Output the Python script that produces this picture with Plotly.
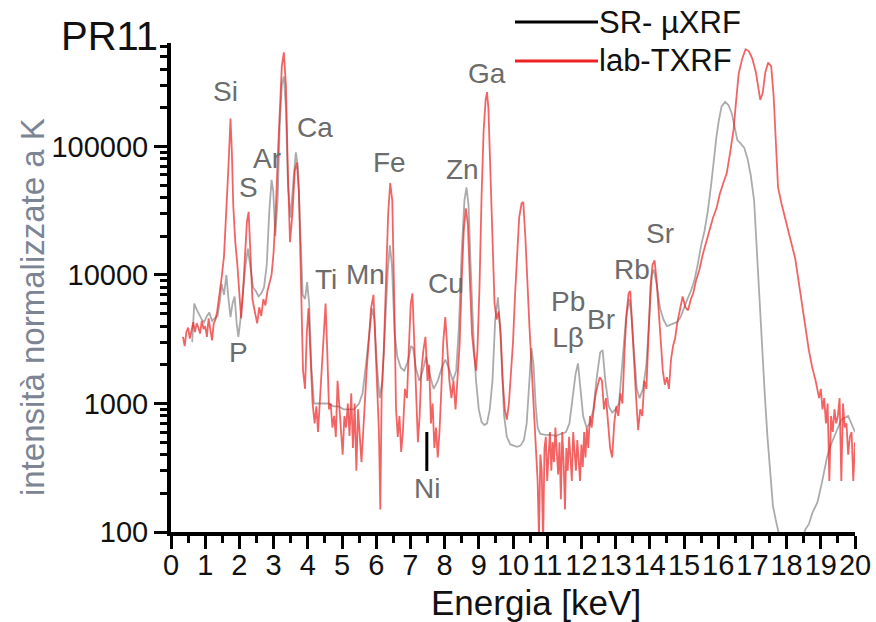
import plotly.graph_objects as go

# ---- lab-TXRF spectrum (energy in keV, normalised intensity) ----
lab_energy = [
    0.35, 0.40, 0.45, 0.50, 0.55, 0.60, 0.65, 0.70, 0.75, 0.80, 0.85, 0.90, 0.95, 1.00,
    1.05, 1.10, 1.15, 1.20, 1.25, 1.30, 1.35, 1.42, 1.48, 1.55, 1.62, 1.68, 1.74, 1.78,
    1.82, 1.88, 1.94, 2.00, 2.05, 2.10, 2.16, 2.22, 2.27, 2.32, 2.38, 2.45, 2.52, 2.58,
    2.64, 2.70, 2.76, 2.82, 2.88, 2.94, 3.00, 3.06, 3.12, 3.18, 3.24, 3.30, 3.36, 3.42,
    3.48, 3.55, 3.62, 3.68, 3.74, 3.80, 3.86, 3.92, 3.97, 4.02, 4.08, 4.14, 4.20, 4.25,
    4.30, 4.36, 4.42, 4.48, 4.52, 4.57, 4.62, 4.67, 4.72, 4.77, 4.82, 4.87, 4.92, 4.97,
    5.02, 5.07, 5.12, 5.17, 5.22, 5.27, 5.32, 5.37, 5.42, 5.47, 5.52, 5.57, 5.62, 5.67,
    5.72, 5.78, 5.85, 5.92, 5.98, 6.04, 6.08, 6.12, 6.16, 6.22, 6.28, 6.35, 6.41, 6.47,
    6.53, 6.58, 6.63, 6.68, 6.73, 6.78, 6.84, 6.90, 6.95, 7.01, 7.06, 7.11, 7.17, 7.22,
    7.27, 7.32, 7.38, 7.44, 7.50, 7.55, 7.60, 7.65, 7.70, 7.75, 7.80, 7.85, 7.90, 7.96,
    8.02, 8.08, 8.14, 8.20, 8.26, 8.32, 8.38, 8.44, 8.50, 8.56, 8.62, 8.68, 8.74, 8.80,
    8.86, 8.92, 8.96, 9.02, 9.08, 9.14, 9.20, 9.24, 9.28, 9.34, 9.40, 9.46, 9.52, 9.58,
    9.64, 9.70, 9.76, 9.82, 9.88, 9.94, 10.00, 10.06, 10.12, 10.18, 10.25, 10.30, 10.36,
    10.42, 10.48, 10.54, 10.60, 10.66, 10.72, 10.76, 10.80, 10.84, 10.88, 10.92, 10.96,
    11.00, 11.04, 11.08, 11.12, 11.16, 11.20, 11.24, 11.28, 11.32, 11.36, 11.40, 11.44,
    11.48, 11.52, 11.56, 11.60, 11.64, 11.68, 11.72, 11.76, 11.80, 11.84, 11.88, 11.92,
    11.96, 12.00, 12.04, 12.08, 12.12, 12.16, 12.20, 12.25, 12.30, 12.36, 12.42, 12.48,
    12.54, 12.60, 12.66, 12.72, 12.78, 12.84, 12.90, 12.96, 13.02, 13.08, 13.14, 13.20,
    13.26, 13.32, 13.38, 13.43, 13.48, 13.54, 13.60, 13.66, 13.72, 13.78, 13.84, 13.90,
    13.96, 14.02, 14.08, 14.14, 14.20, 14.26, 14.32, 14.38, 14.44, 14.50, 14.56, 14.62,
    14.68, 14.74, 14.80, 14.88, 14.96, 15.04, 15.12, 15.20, 15.27, 15.35, 15.45, 15.55,
    15.65, 15.75, 15.85, 15.95, 16.05, 16.15, 16.25, 16.35, 16.45, 16.52, 16.60, 16.70,
    16.80, 16.90, 17.00, 17.10, 17.17, 17.23, 17.30, 17.38, 17.46, 17.55, 17.62, 17.68,
    17.75, 17.85, 17.95, 18.05, 18.15, 18.25, 18.35, 18.45, 18.55, 18.65, 18.75, 18.85,
    18.95, 19.00, 19.05, 19.10, 19.15, 19.20, 19.25, 19.30, 19.35, 19.40, 19.45, 19.50,
    19.55, 19.60, 19.65, 19.70, 19.75, 19.80, 19.85, 19.90, 19.95, 20.00,
]
lab_counts = [
    3300, 2800, 3600, 3900, 3200, 3700, 4300, 3600, 4200, 3900, 3500, 4400, 3800, 4000,
    3300, 4600, 3700, 3100, 4200, 4500, 5200, 7000, 9500, 14000, 30000, 70000, 165000, 90000,
    35000, 18000, 12000, 6500, 4600, 7000, 14000, 26000, 31000, 14000, 6500, 5200, 4200, 5600,
    4800, 6500, 5800, 7500, 8500, 10000, 15000, 30000, 80000, 200000, 420000, 540000, 300000, 60000,
    18000, 30000, 65000, 75000, 45000, 9000, 1800, 1300, 3500, 5500, 2500, 1000, 700, 950,
    600, 1100, 2000, 4500, 6000, 2500, 900, 1000, 650, 800, 550, 1500, 1000, 700,
    400, 800, 650, 1000, 560, 1200, 450, 1000, 300, 900, 550, 350, 600, 1100,
    1800, 3000, 5500, 7000, 3000, 1000, 600, 150, 1200, 2500, 8000, 30000, 52000, 38000,
    6000, 900, 550, 800, 420, 600, 1300, 1100, 2500, 6000, 7200, 3000, 1000, 500,
    800, 1800, 2600, 3300, 1500, 2000, 700, 1000, 450, 650, 380, 600, 1200, 3000,
    4700, 2500, 1500, 1100, 1500, 900, 1700, 2900, 9000, 22000, 33000, 25000, 9000, 3500,
    2400, 1800, 2600, 8000, 40000, 130000, 230000, 265000, 200000, 60000, 15000, 6000, 4500, 5200,
    3500, 1500, 900, 750, 1000, 1600, 3000, 7000, 16000, 28000, 36000, 37000, 20000,
    8000, 4000, 2000, 900, 500, 250, 90, 400, 300, 80, 450, 550,
    250, 400, 600, 300, 500, 350, 650, 420, 280, 500, 180, 600,
    350, 150, 450, 300, 550, 380, 250, 600, 420, 300, 520, 350,
    250, 480, 320, 600, 380, 650, 450, 800, 650, 900, 1200, 1400,
    1600, 1500, 900, 1100, 700, 450, 380, 700, 950, 800, 1200, 1000,
    2500, 5000, 7200, 7500, 4200, 2000, 1100, 620, 900, 800, 1500, 1300,
    3000, 8000, 12000, 13000, 9000, 5000, 2800, 1800, 1400, 1600, 1300, 2200,
    2800, 3200, 4200, 5500, 6800, 5600, 5300, 6500, 7200, 9000, 11000, 14500,
    18000, 22000, 28000, 33000, 43000, 52000, 62000, 90000, 135000, 220000, 370000, 480000,
    570000, 550000, 480000, 380000, 300000, 230000, 260000, 380000, 450000, 420000, 250000, 100000,
    48000, 36000, 28000, 22000, 17000, 13500, 9000, 6000, 4000, 2600, 1900, 1500,
    1100, 1300, 900, 1100, 700, 1000, 250, 800, 600, 900, 700, 800,
    1100, 250, 1000, 650, 700, 400, 550, 600, 250, 500,
]

# ---- SR-µXRF spectrum ----
sr_energy = [
    0.62, 0.68, 0.75, 0.82, 0.90, 0.97, 1.05, 1.12, 1.20, 1.28, 1.36, 1.42, 1.48, 1.55,
    1.62, 1.68, 1.74, 1.80, 1.86, 1.92, 1.97, 2.03, 2.10, 2.18, 2.25, 2.32, 2.40, 2.48,
    2.56, 2.64, 2.72, 2.80, 2.87, 2.94, 2.99, 3.05, 3.12, 3.18, 3.24, 3.30, 3.36, 3.42,
    3.50, 3.58, 3.65, 3.71, 3.78, 3.85, 3.92, 3.98, 4.04, 4.10, 4.18, 4.30, 4.45, 4.60,
    4.75, 4.90, 5.05, 5.20, 5.35, 5.50, 5.60, 5.70, 5.80, 5.88, 5.95, 6.02, 6.10, 6.18,
    6.26, 6.34, 6.40, 6.46, 6.54, 6.62, 6.72, 6.82, 6.92, 7.02, 7.08, 7.16, 7.26, 7.36,
    7.46, 7.56, 7.68, 7.80, 7.92, 8.02, 8.12, 8.24, 8.34, 8.42, 8.50, 8.58, 8.64, 8.70,
    8.76, 8.84, 8.92, 9.00, 9.08, 9.16, 9.24, 9.32, 9.40, 9.48, 9.56, 9.62, 9.68, 9.74,
    9.82, 9.92, 10.02, 10.12, 10.22, 10.32, 10.40, 10.47, 10.54, 10.60, 10.66, 10.72, 10.80,
    10.95, 11.10, 11.25, 11.40, 11.55, 11.65, 11.75, 11.83, 11.90, 11.97, 12.05, 12.15,
    12.25, 12.35, 12.45, 12.55, 12.62, 12.70, 12.80, 12.90, 13.00, 13.10, 13.20, 13.30,
    13.40, 13.46, 13.54, 13.62, 13.70, 13.80, 13.90, 13.98, 14.06, 14.12, 14.20, 14.30,
    14.40, 14.50, 14.60, 14.70, 14.80, 14.90, 15.00, 15.10, 15.20, 15.30, 15.40, 15.50,
    15.60, 15.70, 15.80, 15.88, 15.95, 16.02, 16.10, 16.20, 16.30, 16.40, 16.48, 16.56,
    16.66, 16.76, 16.86, 16.95, 17.05, 17.12, 17.20, 17.28, 17.36, 17.44, 17.52, 17.60,
    17.68, 17.78, 17.90, 18.10, 18.30, 18.45, 18.55, 18.65, 18.75, 18.90, 19.03, 19.18,
    19.27, 19.45, 19.60, 19.80, 20.00,
]
sr_counts = [
    3000, 6000, 5400, 4900, 4500, 4300, 4800, 5100, 4400, 4600, 4800, 6000, 8500, 7000,
    10000, 6500, 4700, 6000, 6800, 4200, 3300, 4500, 7000, 12000, 16000, 11000, 8000, 7500,
    6800, 7200, 8000, 12000, 30000, 55000, 45000, 20000, 40000, 150000, 300000, 350000, 200000, 50000,
    28000, 55000, 90000, 70000, 20000, 7000, 6500, 8800, 6000, 2000, 1000, 1000, 1000, 1000,
    950, 950, 900, 900, 900, 1000, 1200, 2000, 3500, 5500, 4500, 2000, 1100, 1500,
    4000, 11000, 17000, 12000, 3500, 2300, 1900, 1800, 2100, 2800, 2700, 1900, 1500, 1800,
    2300, 1700, 1300, 1500, 1900, 2200, 1900, 1500, 1800, 4000, 15000, 38000, 48000, 35000,
    12000, 3500, 1500, 900, 720, 680, 700, 900, 1500, 4500, 6700, 4000, 1800, 800,
    550, 480, 470, 460, 470, 520, 700, 1500, 2700, 2000, 1000, 650, 580,
    570, 570, 560, 580, 600, 700, 1200, 1700, 2050, 1300, 800, 650,
    700, 900, 1600, 2500, 2600, 1500, 950, 850, 900, 1000, 2000, 4500,
    6500, 5000, 2500, 1300, 1100, 1300, 2000, 5000, 10000, 11000, 8500, 5500,
    4500, 4000, 4100, 4200, 4300, 4700, 5600, 6500, 7500, 9000, 12000, 17000,
    22000, 32000, 52000, 85000, 120000, 160000, 205000, 222000, 210000, 180000, 140000, 112000,
    105000, 98000, 80000, 60000, 38000, 17000, 7000, 2800, 1200, 550, 280, 160,
    125, 95, 60, 50, 60, 85, 105, 115, 140, 170, 240, 380,
    460, 600, 750, 800, 600,
]

# ---- element labels (energy keV, log10 intensity) ----
elem_names = ["Si", "P", "S", "Ar", "K", "Ca", "Ti", "Mn", "Fe", "Cu", "Zn", "Ga",
              "Pb<br>Lβ", "Br", "Rb", "Sr"]
elem_x = [1.58, 1.96, 2.28, 2.81, 3.33, 4.21, 4.53, 5.70, 6.40, 8.04, 8.51, 9.24,
          11.61, 12.57, 13.48, 14.30]
elem_logy = [5.424, 3.40, 4.677, 4.91, 5.93, 5.144, 3.961, 4.00, 4.872, 3.93, 4.817, 5.564,
             3.65, 3.65, 4.04, 4.32]

x_ticks = list(range(0, 21))
y_ticks = [100, 1000, 10000, 100000]
y_ticktext = ["100", "1000", "10000", "100000"]
y_minor = [m * d for d in (100, 1000, 10000, 100000) for m in range(2, 10) if m * d < 640000]

FONT = "Liberation Sans"
RED = "rgba(236,34,34,0.70)"
GREY = "rgba(110,110,110,0.58)"

fig = go.Figure()
fig.add_trace(go.Scatter(x=sr_energy, y=sr_counts, mode="lines", name="SR- µXRF",
                         line=dict(color=GREY, width=1.8), showlegend=False))
fig.add_trace(go.Scatter(x=lab_energy, y=lab_counts, mode="lines", name="lab-TXRF",
                         line=dict(color=RED, width=1.8), showlegend=False))


def label(x, y, text, size, color, xref="paper", yref="paper", xanchor="center", **kw):
    return dict(x=x, y=y, xref=xref, yref=yref, text=text, xanchor=xanchor,
                yanchor="middle", font=dict(family=FONT, size=size, color=color), **kw)


annotations = []
for name, ex, ly in zip(elem_names, elem_x, elem_logy):
    annotations.append(label(ex, ly, name, 28, "#6c6c6c", xref="x", yref="y",
                             showarrow=False))
# Ni marker with a short tick pointing to the line
annotations.append(dict(x=7.48, y=2.778, xref="x", yref="y", text="Ni", showarrow=True,
                        arrowhead=0, arrowwidth=3, arrowcolor="black", ax=0, ay=56,
                        standoff=0, font=dict(family=FONT, size=28, color="#6c6c6c")))
# sample name
annotations.append(label(-0.0906, 1.0143, "PR11", 40, "#111111", showarrow=False))
# axis titles
annotations.append(label(0.5336, -0.145, "Energia [keV]", 35, "#111111", showarrow=False))
annotations.append(label(-0.2032, 0.46, "intensità normalizzate a K", 33, "#7d8494",
                         textangle=-90, showarrow=False))
# legend entries
annotations.append(label(0.6228, 1.0429, "SR- µXRF", 31, "#111111", xanchor="left",
                         showarrow=False))
annotations.append(label(0.6228, 0.9632, "lab-TXRF", 31, "#111111", xanchor="left",
                         showarrow=False))

shapes = [
    dict(type="line", xref="paper", yref="paper", x0=0.5029, x1=0.6243, y0=1.0429, y1=1.0429,
         line=dict(color="black", width=3)),
    dict(type="line", xref="paper", yref="paper", x0=0.5029, x1=0.6243, y0=0.9632, y1=0.9632,
         line=dict(color="#ee2222", width=3)),
]

axis_common = dict(showline=True, linewidth=4, linecolor="black", ticks="outside",
                   ticklen=13, tickwidth=3, tickcolor="black", showgrid=False, zeroline=False,
                   automargin=False,
                   tickfont=dict(family=FONT, size=29, color="#111111"))

fig.update_layout(
    width=876, height=622,
    margin=dict(l=171, r=21, t=43, b=90),
    paper_bgcolor="white", plot_bgcolor="white",
    showlegend=False,
    xaxis=dict(range=[0, 20], tickmode="array", tickvals=x_ticks,
               ticktext=[str(v) for v in x_ticks], tickangle=0, ticklabelstandoff=-9,
               minor=dict(dtick=0.5, ticks="outside", ticklen=7, tickwidth=3,
                          tickcolor="black"),
               **axis_common),
    yaxis=dict(type="log", range=[2, 5.805], tickmode="array", tickvals=y_ticks,
               ticktext=y_ticktext,
               minor=dict(tickmode="array", tickvals=y_minor, ticks="outside", ticklen=7,
                          tickwidth=3, tickcolor="black"),
               **axis_common),
    annotations=annotations,
    shapes=shapes,
)

fig.write_html("out.html")
